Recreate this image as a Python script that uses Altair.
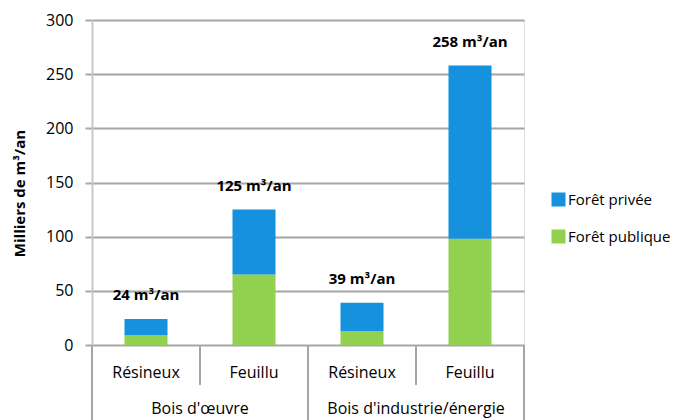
import altair as alt
import pandas as pd

subcats = ["Résineux", "Feuillu", "Résineux", "Feuillu"]
groups = ["Bois d'œuvre", "Bois d'œuvre", "Bois d'industrie/énergie", "Bois d'industrie/énergie"]
publique = [9, 65, 13, 98]
privee = [15, 60, 26, 160]
totals = [24, 125, 39, 258]
series = ["Forêt privée", "Forêt publique"]
colors = ["#1591DE", "#92D050"]

keys = [f"{g}|{s}" for g, s in zip(groups, subcats)]

rows = []
for k, s, g, pu, pr in zip(keys, subcats, groups, publique, privee):
    rows.append({"key": k, "sub": s, "grp": g, "serie": "Forêt publique", "val": pu, "ord": 0})
    rows.append({"key": k, "sub": s, "grp": g, "serie": "Forêt privée", "val": pr, "ord": 1})
df = pd.DataFrame(rows)

tot = pd.DataFrame({"key": keys, "sub": subcats, "grp": groups, "total": totals,
                    "lab": [f"{t} m³/an" for t in totals]})

FONT = "Open Sans"
GRID = "#a6a6a6"

xscale = alt.Scale(domain=keys, paddingInner=0, paddingOuter=0)
X = lambda bp=None: (alt.X("key:N", scale=xscale, axis=None) if bp is None
                     else alt.X("key:N", scale=xscale, axis=None, bandPosition=bp))

bars = alt.Chart(df).mark_bar(size=43).encode(
    x=alt.X("key:N", scale=xscale,
            axis=alt.Axis(labels=False, ticks=False, title=None, domainColor=GRID,
                          domainWidth=2)),
    y=alt.Y("val:Q", stack="zero",
            scale=alt.Scale(domain=[0, 300]),
            axis=alt.Axis(values=[0, 50, 100, 150, 200, 250, 300], title="Milliers de m³/an",
                          titleFont=FONT, titleFontSize=15, titleFontWeight="bold",
                          titleColor="#000", titleX=-73, titleY=173,
                          titleAlign="center", titleBaseline="middle", titleAngle=-90,
                          labelFont=FONT, labelFontSize=16, labelColor="#000",
                          labelPadding=12, tickSize=7, tickColor=GRID, tickWidth=2,
                          domainColor="#c8c8c8", domainWidth=2,
                          gridColor=GRID, gridWidth=2)),
    color=alt.Color("serie:N", scale=alt.Scale(domain=series, range=colors),
                    legend=alt.Legend(title=None, orient="none", legendX=459, legendY=172,
                                      symbolType="square", symbolSize=196,
                                      symbolStrokeWidth=0, labelFont=FONT,
                                      labelFontSize=15, labelColor="#000",
                                      labelOffset=2, rowPadding=21)),
    order=alt.Order("ord:Q"),
)

labels = alt.Chart(tot).mark_text(font=FONT, fontSize=15, fontWeight="bold",
                                  dy=-24, color="#000").encode(
    x=X(), y=alt.Y("total:Q"), text="lab:N")

sub_labels = alt.Chart(tot).mark_text(font=FONT, fontSize=16, color="#000",
                                      baseline="middle").encode(
    x=X(), y=alt.value(353), text="sub:N")

grp_df = tot.iloc[[1, 3]]
grp_labels = alt.Chart(grp_df).mark_text(font=FONT, fontSize=16, color="#000",
                                         baseline="middle").encode(
    x=X(0), y=alt.value(389), text="grp:N")

short_sep = alt.Chart(tot.iloc[[1, 3]]).mark_rule(color=GRID, strokeWidth=2).encode(
    x=X(0), y=alt.value(325), y2=alt.value(365))
long_sep = alt.Chart(tot.iloc[[0, 2]]).mark_rule(color=GRID, strokeWidth=2).encode(
    x=X(0), y=alt.value(325), y2=alt.value(400))
right_sep = alt.Chart(tot.iloc[[3]]).mark_rule(color=GRID, strokeWidth=2).encode(
    x=X(1), y=alt.value(325), y2=alt.value(400))

chart = alt.layer(bars, labels, sub_labels, grp_labels, short_sep, long_sep, right_sep).properties(
    width=432, height=325,
    autosize=alt.AutoSizeParams(type="none"),
    padding={"left": 92, "top": 20, "right": 152, "bottom": 75},
).configure_view(stroke=None).configure(background="white")

chart.save("out.html", embed_options={"renderer": "svg", "actions": False})
